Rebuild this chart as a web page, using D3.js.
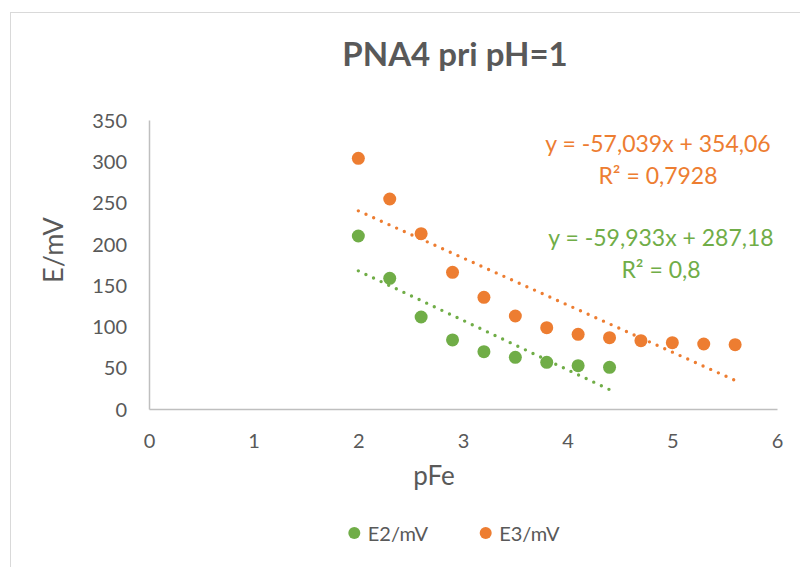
<!DOCTYPE html>
<html>
<head>
<meta charset="utf-8">
<script src="https://cdn.jsdelivr.net/npm/d3@7"></script>
<style>
  html, body { margin: 0; padding: 0; background: #fff; }
  text { font-family: Lato, "Open Sans", sans-serif; fill: #595959; }
</style>
</head>
<body>
<svg id="chart"></svg>
<script>
// values
const pFe = [2, 2.3, 2.6, 2.9, 3.2, 3.5, 3.8, 4.1, 4.4, 4.7, 5, 5.3, 5.6];
const e2 = [209.5, 158.3, 111.4, 83.6, 69.4, 62.6, 56.5, 52.5, 50.5];
const e3 = [303.6, 254.3, 212.3, 165.5, 135.2, 112.6, 98.5, 90.4, 86.4, 82.8, 80.3, 78.7, 77.9];
const seriesNames = ['E2/mV', 'E3/mV'];
const slopes = [-59.933, -57.039];
const intercepts = [287.18, 354.06];
const r2Labels = ['0,8', '0,7928'];
const eqLabels = ['y = -59,933x + 287,18', 'y = -57,039x + 354,06'];
const xTicks = [0, 1, 2, 3, 4, 5, 6];
const yTicks = [0, 50, 100, 150, 200, 250, 300, 350];

const width = 800;
const height = 567;
const colors = ['#70AD47', '#ED7D31'];

const svg = d3.select('#chart')
  .attr('width', width)
  .attr('height', height);

// chart area border (runs off the right and bottom edge)
svg.append('rect')
  .attr('x', 10.5)
  .attr('y', 12.5)
  .attr('width', 820)
  .attr('height', 600)
  .attr('fill', '#fff')
  .attr('stroke', '#D9D9D9');

const x = d3.scaleLinear().domain([0, 6]).range([149, 777]);
const y = d3.scaleLinear().domain([0, 350]).range([409, 120]);

// axes
const xAxis = svg.append('g')
  .attr('transform', `translate(0,${y(0)})`)
  .call(d3.axisBottom(x).tickValues(xTicks).tickSize(0).tickPadding(0).tickFormat(d3.format('d')));
xAxis.select('.domain').attr('stroke', '#BFBFBF').attr('stroke-width', 1.5);
xAxis.selectAll('text')
  .attr('y', 39)
  .attr('dy', 0)
  .style('font-size', '20px')
  .style('font-family', 'Lato');

const yAxis = svg.append('g')
  .attr('transform', `translate(${x(0)},0)`)
  .call(d3.axisLeft(y).tickValues(yTicks).tickSize(0).tickPadding(22));
yAxis.select('.domain').attr('stroke', '#BFBFBF').attr('stroke-width', 1.5);
yAxis.selectAll('text')
  .attr('dy', '0.36em')
  .style('font-size', '20px')
  .style('font-family', 'Lato');

// titles
svg.append('text')
  .attr('x', 455)
  .attr('y', 66)
  .attr('text-anchor', 'middle')
  .style('font-size', '33px')
  .style('font-weight', 'bold')
  .text('PNA4 pri pH=1');

svg.append('text')
  .attr('x', 434)
  .attr('y', 485)
  .attr('text-anchor', 'middle')
  .style('font-size', '26px')
  .text('pFe');

svg.append('text')
  .attr('transform', 'translate(63,250) rotate(-90)')
  .attr('text-anchor', 'middle')
  .style('font-size', '27px')
  .text('E/mV');

// points
const seriesData = [e2, e3];
seriesData.forEach((vals, i) => {
  svg.append('g')
    .selectAll('circle')
    .data(vals)
    .join('circle')
    .attr('cx', (d, j) => x(pFe[j]))
    .attr('cy', d => y(d))
    .attr('r', 6.5)
    .attr('fill', colors[i]);
});

// linear trendlines from the displayed equations
seriesData.forEach((vals, i) => {
  const xs = [pFe[0], pFe[vals.length - 1]];
  const line = d3.line()
    .x(d => x(d))
    .y(d => y(slopes[i] * d + intercepts[i]));
  svg.append('path')
    .datum(xs)
    .attr('d', line)
    .attr('fill', 'none')
    .attr('stroke', colors[i])
    .attr('stroke-width', 3.4)
    .attr('stroke-linecap', 'round')
    .attr('stroke-dasharray', '0 8.4');
});

// trendline labels
const labelPos = [[661, 245.7], [658, 151.7]];
labelPos.forEach((p, i) => {
  const g = svg.append('g').style('font-size', '23px');
  g.append('text')
    .attr('x', p[0])
    .attr('y', p[1])
    .attr('text-anchor', 'middle')
    .style('fill', colors[i])
    .text(eqLabels[i]);
  g.append('text')
    .attr('x', p[0])
    .attr('y', p[1] + 32.6)
    .attr('text-anchor', 'middle')
    .style('fill', colors[i])
    .text(`R² = ${r2Labels[i]}`);
});

// legend
const legendX = [354.3, 485.7];
seriesNames.forEach((name, i) => {
  svg.append('circle')
    .attr('cx', legendX[i])
    .attr('cy', 533)
    .attr('r', 6)
    .attr('fill', colors[i]);
  svg.append('text')
    .attr('x', legendX[i] + 13.5)
    .attr('y', 540.7)
    .style('font-size', '20px')
    .text(name);
});
</script>
</body>
</html>
